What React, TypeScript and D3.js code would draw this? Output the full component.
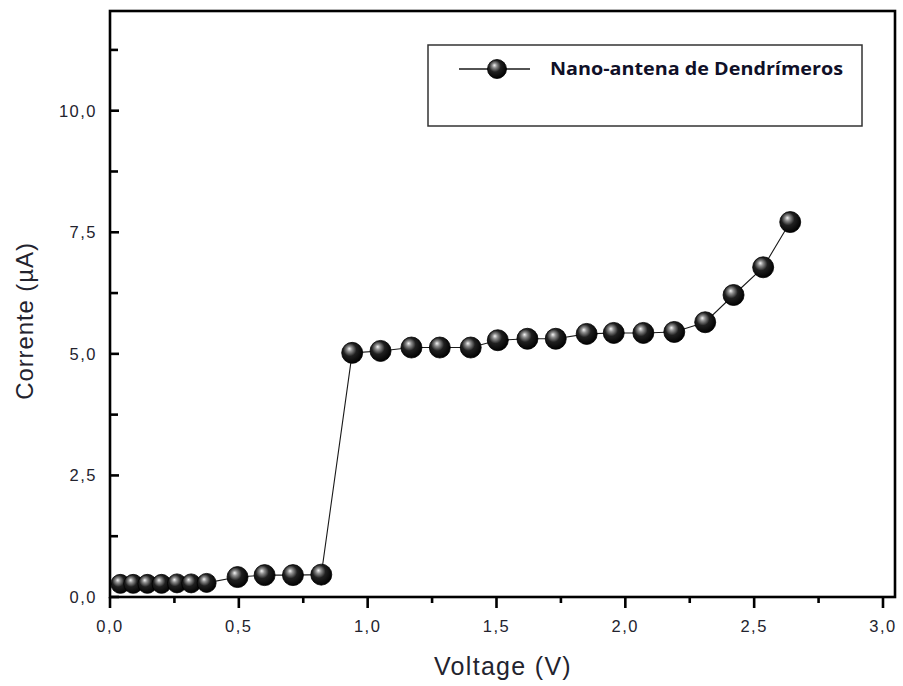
import React from "react";
import * as d3 from "d3";

// I–V measurement of the dendrimer nano-antenna
const voltage = [
  0.04, 0.09, 0.145, 0.2, 0.26, 0.315, 0.375, 0.495, 0.6, 0.71, 0.82, 0.94, 1.05, 1.17,
  1.28, 1.4, 1.505, 1.62, 1.73, 1.85, 1.955, 2.07, 2.19, 2.31, 2.42, 2.535, 2.64,
];
const current = [
  0.27, 0.27, 0.27, 0.27, 0.28, 0.28, 0.29, 0.41, 0.45, 0.45, 0.46, 5.02, 5.06, 5.13,
  5.13, 5.13, 5.28, 5.31, 5.31, 5.41, 5.43, 5.43, 5.45, 5.65, 6.21, 6.78, 7.71,
];

const xMajorTicks = [0, 0.5, 1, 1.5, 2, 2.5, 3];
const xMinorTicks = [0.25, 0.75, 1.25, 1.75, 2.25, 2.75];
const yMajorTicks = [0, 2.5, 5, 7.5, 10];
const yMinorTicks = [1.25, 3.75, 6.25, 8.75, 11.25];

const seriesName = "Nano-antena de Dendrímeros";
const xTitle = "Voltage (V)";
const yTitle = "Corrente (µA)";

const W = 903;
const H = 686;
const left = 110;
const right = 895;
const top = 11;
const bottom = 597;

const fmt = (v: number) => v.toFixed(1).replace(".", ",");

export default function App() {
  const x = d3.scaleLinear().domain([0, 3.0466]).range([left, right]);
  const y = d3.scaleLinear().domain([0, 12.05]).range([bottom, top]);

  const pts = voltage.map((v, i) => [v, current[i]] as [number, number]);
  const line = d3
    .line<[number, number]>()
    .x((d) => x(d[0]))
    .y((d) => y(d[1]));

  const tickFont = "'Liberation Sans', Arial, sans-serif";
  const tickColor = "#23232e";

  return (
    <svg
      width={W}
      height={H}
      viewBox={`0 0 ${W} ${H}`}
      style={{ position: "absolute", left: 0, top: 0, background: "#fff" }}
    >
      <defs>
        <radialGradient id="sphere" cx="0.42" cy="0.4" r="0.62" fx="0.36" fy="0.3">
          <stop offset="0" stopColor="#f4f4f4" />
          <stop offset="0.2" stopColor="#8e8e8e" />
          <stop offset="0.5" stopColor="#202020" />
          <stop offset="1" stopColor="#000" />
        </radialGradient>
      </defs>

      {/* connecting line */}
      <path d={line(pts) || ""} fill="none" stroke="#1a1a1a" strokeWidth={1.1} />

      {/* sphere markers */}
      {pts.map((d, i) => (
        <circle
          key={i}
          cx={x(d[0])}
          cy={y(d[1])}
          r={i < 7 ? 9.5 : 10.5}
          fill="url(#sphere)"
          stroke="#000"
          strokeWidth={0.8}
        />
      ))}

      {/* frame */}
      <rect
        x={left}
        y={top}
        width={right - left}
        height={bottom - top}
        fill="none"
        stroke="#000"
        strokeWidth={2.6}
      />

      {/* x ticks (outward) */}
      {xMajorTicks.map((t) => (
        <line key={"xM" + t} x1={x(t)} x2={x(t)} y1={bottom} y2={bottom + 11} stroke="#000" strokeWidth={2.6} />
      ))}
      {xMinorTicks.map((t) => (
        <line key={"xm" + t} x1={x(t)} x2={x(t)} y1={bottom} y2={bottom + 6} stroke="#000" strokeWidth={2.6} />
      ))}
      {xMajorTicks.map((t) => (
        <text
          key={"xl" + t}
          x={x(t)}
          y={632}
          textAnchor="middle"
          fontFamily={tickFont}
          fontSize={16.5}
          letterSpacing={1.5}
          fill={tickColor}
        >
          {fmt(t)}
        </text>
      ))}

      {/* y ticks (inward) */}
      {yMajorTicks.map((t) => (
        <line key={"yM" + t} x1={left} x2={left + 9} y1={y(t)} y2={y(t)} stroke="#000" strokeWidth={2.6} />
      ))}
      {yMinorTicks.map((t) => (
        <line key={"ym" + t} x1={left} x2={left + 8} y1={y(t)} y2={y(t)} stroke="#000" strokeWidth={2.6} />
      ))}
      {yMajorTicks.map((t) => (
        <text
          key={"yl" + t}
          x={97}
          y={y(t) + 6}
          textAnchor="end"
          fontFamily={tickFont}
          fontSize={16.5}
          letterSpacing={1.5}
          fill={tickColor}
        >
          {fmt(t)}
        </text>
      ))}

      {/* axis titles */}
      <text
        x={503}
        y={675}
        textAnchor="middle"
        fontFamily={tickFont}
        fontSize={25}
        letterSpacing={1.3}
        fill={tickColor}
      >
        {xTitle}
      </text>
      <text
        transform={`translate(33, 321) rotate(-90)`}
        textAnchor="middle"
        fontFamily={tickFont}
        fontSize={24}
        letterSpacing={0.9}
        fill={tickColor}
      >
        {yTitle}
      </text>

      {/* legend */}
      <rect x={428} y={45} width={434} height={81} fill="#fff" stroke="#333" strokeWidth={1.5} />
      <line x1={459} x2={530} y1={69} y2={69} stroke="#1a1a1a" strokeWidth={1.3} />
      <circle cx={497} cy={69} r={9.5} fill="url(#sphere)" stroke="#000" strokeWidth={0.8} />
      <text
        x={550}
        y={75}
        fontFamily="'Open Sans', 'Noto Sans', sans-serif"
        fontWeight="bold"
        fontSize={17}
        textLength={293}
        lengthAdjust="spacingAndGlyphs"
        fill="#101028"
      >
        {seriesName}
      </text>
    </svg>
  );
}
